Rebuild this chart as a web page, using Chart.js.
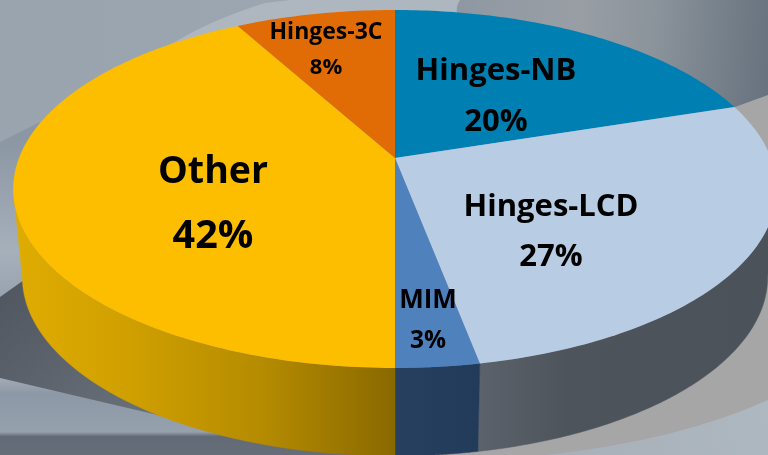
<!DOCTYPE html>
<html><head><meta charset="utf-8">
<style>html,body{margin:0;padding:0;background:#9aa5b0}canvas{display:block}</style>
<script src="https://cdn.jsdelivr.net/npm/chart.js@4"></script>
</head><body>
<canvas id="c" width="768" height="455"></canvas>
<script>
const categories = ['Hinges-NB','Hinges-LCD','MIM','Other','Hinges-3C'];
const values = [20,27,3,42,8];
const topColors = ['#0080B2','#B8CCE4','#4F81BD','#FDBE00','#E16C05'];
const sideStops = [
  null,
  [['0','#5B626B'],['0.3','#4D545B'],['1','#4B5259']],
  [['0','#274060'],['1','#233B5A']],
  [['0','#DFAC00'],['0.3','#D0A000'],['0.65','#B58B00'],['1','#8A6900']],
  null
];
const labelBlocks = [
  {name:'Hinges-NB', pct:'20%', cx:496, y1:71, y2:122, size:31, pctSize:31},
  {name:'Hinges-LCD',pct:'27%', cx:551, y1:207, y2:257, size:31, pctSize:31},
  {name:'MIM',       pct:'3%',  cx:428, y1:301, y2:341, size:26, pctSize:24.5},
  {name:'Other',     pct:'42%', cx:213, y1:172, y2:237, size:37.5, pctSize:39.5},
  {name:'Hinges-3C', pct:'8%',  cx:326, y1:32,  y2:68,  size:23, pctSize:22}
];
const K=0.173, B=173.6, CX=395;
const TOP={a:376,y0:158}, BOT={a:367,y0:246};
function proj(g,phi){const u=Math.cos(phi),v=Math.sin(phi),d=1-K*v;return [CX+g.a*u/d,g.y0+B*v/d];}

function poly(ctx,pts){ctx.beginPath();pts.forEach((p,i)=>i?ctx.lineTo(p[0],p[1]):ctx.moveTo(p[0],p[1]));ctx.closePath();}

const background={id:'background',beforeDraw(chart){
  const ctx=chart.ctx;ctx.save();
  let g=ctx.createLinearGradient(0,0,768,60);
  g.addColorStop(0,'#99A4AF');g.addColorStop(.4,'#9CA6B0');g.addColorStop(.6,'#8F98A2');g.addColorStop(.75,'#999EA5');g.addColorStop(.85,'#8B939B');g.addColorStop(1,'#68737F');
  ctx.fillStyle=g;ctx.fillRect(0,0,768,455);
  // light swoosh at the top
  ctx.fillStyle='#AEB6BF';ctx.beginPath();ctx.moveTo(170,45);ctx.quadraticCurveTo(210,20,265,3);ctx.lineTo(290,0);ctx.lineTo(460,0);ctx.quadraticCurveTo(450,15,470,25);ctx.lineTo(400,40);ctx.closePath();ctx.fill();
  // left column
  g=ctx.createLinearGradient(0,140,0,300);g.addColorStop(0,'#8C97A4');g.addColorStop(.7,'#A6B0BB');g.addColorStop(1,'#97A2AE');
  ctx.fillStyle=g;ctx.beginPath();ctx.moveTo(0,142);ctx.lineTo(40,122);ctx.lineTo(40,300);ctx.lineTo(0,300);ctx.closePath();ctx.fill();
  // dark wedge
  g=ctx.createLinearGradient(0,280,140,430);g.addColorStop(0,'#50565F');g.addColorStop(1,'#69717B');
  ctx.fillStyle=g;ctx.beginPath();ctx.moveTo(0,297);ctx.lineTo(24,280);ctx.lineTo(300,455);ctx.lineTo(0,455);ctx.closePath();ctx.fill();
  // bottom light band
  g=ctx.createLinearGradient(0,378,0,455);g.addColorStop(0,'#A3ACB7');g.addColorStop(.2,'#8D98A6');g.addColorStop(.7,'#96A1AE');g.addColorStop(.76,'#626A75');g.addColorStop(1,'#666E79');
  ctx.fillStyle=g;ctx.beginPath();ctx.moveTo(0,378);ctx.lineTo(260,439);ctx.lineTo(400,455);ctx.lineTo(0,455);ctx.closePath();ctx.fill();
  // lower right
  g=ctx.createLinearGradient(500,455,768,380);g.addColorStop(0,'#A6AEB7');g.addColorStop(1,'#AEB8C1');
  ctx.fillStyle=g;ctx.fillRect(480,370,288,85);
  // grey shadow band
  ctx.fillStyle='#A6A6A6';ctx.beginPath();ctx.moveTo(735,107);ctx.lineTo(768,95);ctx.lineTo(768,400);ctx.quadraticCurveTo(680,440,547,455);ctx.lineTo(440,455);ctx.lineTo(480,300);ctx.closePath();ctx.fill();
  ctx.restore();
}};

const pie3d={id:'pie3d',beforeDatasetsDraw(chart){
  const ctx=chart.ctx,arcs=chart.getDatasetMeta(0).data;
  const lo=Math.asin(K),right=lo,left=Math.PI-lo; // visible front range of the rim
  ctx.save();
  arcs.forEach((arc,i)=>{
    const s=Math.max(arc.startAngle,right),e=Math.min(arc.endAngle,left);
    if(e<=s||!sideStops[i])return;
    const n=80,t=[],b=[];
    for(let j=0;j<=n;j++){const p=s+(e-s)*j/n;t.push(proj(TOP,p));b.push(proj(BOT,p));}
    const pts=t.concat(b.reverse());
    const xs=pts.map(p=>p[0]),x0=Math.min(...xs),x1=Math.max(...xs);
    const g=ctx.createLinearGradient(x0,0,x1,0);
    const stops=sideStops[i];stops.forEach(st=>g.addColorStop(+st[0],st[1]));
    poly(ctx,pts);ctx.fillStyle=g;ctx.fill();
    ctx.strokeStyle=g;ctx.lineWidth=.5;ctx.stroke();
  });
  arcs.forEach((arc,i)=>{
    const n=Math.max(12,Math.ceil((arc.endAngle-arc.startAngle)*60)),pts=[[CX,TOP.y0]];
    for(let j=0;j<=n;j++)pts.push(proj(TOP,arc.startAngle+(arc.endAngle-arc.startAngle)*j/n));
    poly(ctx,pts);ctx.fillStyle=arc.options.backgroundColor;ctx.fill();
  });
  ctx.restore();
  return false;
},
afterDraw(chart){
  const ctx=chart.ctx;ctx.save();
  ctx.fillStyle='#000';ctx.textAlign='center';ctx.textBaseline='middle';
  labelBlocks.forEach(l=>{
    ctx.font='bold '+l.size+'px "Open Sans"';
    ctx.fillText(l.name,l.cx,l.y1);
    ctx.font='bold '+l.pctSize+'px "Open Sans"';
    ctx.fillText(l.pct,l.cx,l.y2);
  });
  ctx.restore();
}};

new Chart(document.getElementById('c'),{
  type:'pie',
  data:{labels:categories,datasets:[{data:values,backgroundColor:topColors,borderWidth:0}]},
  options:{responsive:false,animation:false,plugins:{legend:{display:false},tooltip:{enabled:false}}},
  plugins:[background,pie3d]
});
</script>
</body></html>
